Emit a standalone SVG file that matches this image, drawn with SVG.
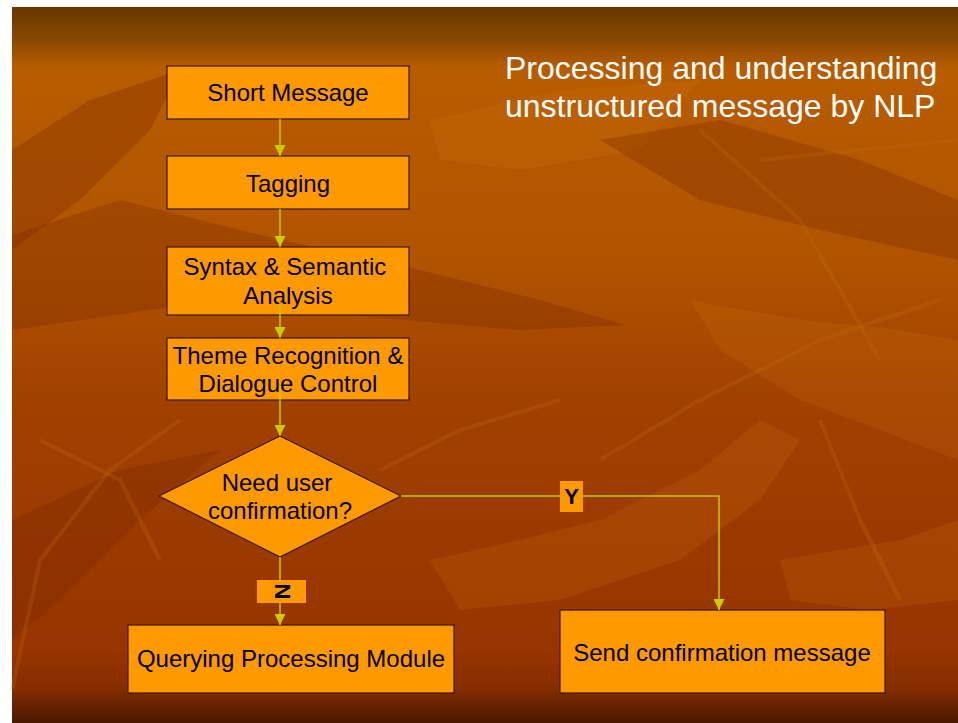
<svg xmlns="http://www.w3.org/2000/svg" width="958" height="723" viewBox="0 0 958 723">
<defs>
<linearGradient id="bg" x1="0" y1="0" x2="0" y2="1">
<stop offset="0" stop-color="#683600"/>
<stop offset="0.05" stop-color="#8e4a00"/>
<stop offset="0.085" stop-color="#b85c00"/>
<stop offset="0.35" stop-color="#b05400"/>
<stop offset="0.55" stop-color="#a04100"/>
<stop offset="0.9" stop-color="#973400"/>
<stop offset="0.95" stop-color="#862e00"/>
<stop offset="1" stop-color="#4a1800"/>
</linearGradient>
<marker id="ah" viewBox="0 0 10 10" refX="10" refY="5" markerWidth="11" markerHeight="11" markerUnits="userSpaceOnUse" orient="auto">
<path d="M0,0 L10,5 L0,10 Z" fill="#cccc00"/>
</marker>
<style>
.box{fill:#ff9900;stroke:#3a1800;stroke-width:1.2}
.t{font-family:"Liberation Sans",Arial,sans-serif;font-size:24px;fill:#000;text-anchor:middle}
.title{font-family:"Liberation Sans",Arial,sans-serif;font-size:32px;fill:#fff}
.c{fill:none;stroke:#c8c800;stroke-width:1.5}
.lab{fill:#ff9900}
.lt{font-family:"Liberation Sans",Arial,sans-serif;font-size:22px;font-weight:bold;fill:#000;text-anchor:middle}
.dk{fill:#7a2400;opacity:0.3}
.lg{fill:#d57a10;opacity:0.18}
.br{fill:none;stroke:#c46a10;stroke-width:4;opacity:0.25}
</style>
</defs>
<rect x="0" y="0" width="958" height="723" fill="#ffffff"/>
<rect x="12" y="7" width="946" height="716" fill="url(#bg)"/>
<g id="background">
<path class="dk" d="M12,235 L120,200 L260,235 L420,270 L540,300 L625,325 L520,330 L380,318 L220,300 L12,330 Z"/>
<path class="dk" d="M12,150 L90,100 L180,70 L150,130 L80,200 L12,250 Z"/>
<path class="lg" d="M430,120 L560,90 L700,80 L640,150 L520,170 L440,160 Z"/>
<path class="dk" d="M600,140 L720,120 L860,160 L958,200 L958,260 L820,230 L700,200 Z"/>
<path class="lg" d="M690,300 L800,320 L900,330 L958,340 L958,460 L880,430 L800,400 L720,350 Z"/>
<path class="dk" d="M12,520 L120,470 L220,450 L140,520 L60,600 L12,640 Z"/>
<path class="lg" d="M430,560 L520,540 L600,520 L700,470 L760,420 L800,440 L760,500 L680,560 L560,600 L460,610 Z"/>
<path class="lg" d="M780,560 L900,540 L958,520 L958,600 L870,610 L790,600 Z"/>
<path class="br" d="M700,130 L800,220 L880,360"/>
<path class="br" d="M760,160 L860,150 L958,140"/>
<path class="br" d="M12,690 L40,560 L110,470 L180,420"/>
<path class="br" d="M40,440 L120,480 L160,560"/>
<path class="br" d="M600,460 L700,400 L820,340 L940,300"/>
<path class="br" d="M820,420 L860,520 L900,600"/>
<path class="br" d="M380,470 L460,430 L560,400"/>
</g>
<text class="title" x="505" y="79">Processing and understanding</text>
<text class="title" x="505" y="117">unstructured message by NLP</text>
<g id="n_short">
<rect class="box" x="167" y="66" width="242" height="53"/>
<text class="t" x="288" y="101">Short Message</text>
</g>
<g id="n_tagging">
<rect class="box" x="167" y="156" width="242" height="53"/>
<text class="t" x="288" y="192">Tagging</text>
</g>
<g id="n_syntax">
<rect class="box" x="167" y="247" width="242" height="68"/>
<text class="t" x="285" y="275">Syntax &amp; Semantic</text>
<text class="t" x="288" y="304">Analysis</text>
</g>
<g id="n_theme">
<rect class="box" x="167" y="338" width="242" height="62"/>
<text class="t" x="288" y="364">Theme Recognition &amp;</text>
<text class="t" x="288" y="392">Dialogue Control</text>
</g>
<g id="n_decision">
<polygon class="box" points="280,436 401,496 280,557 159,496"/>
<text class="t" x="277" y="491">Need user</text>
<text class="t" x="280" y="519">confirmation?</text>
</g>
<g id="n_query">
<rect class="box" x="128" y="625" width="326" height="68"/>
<text class="t" x="291" y="667">Querying Processing Module</text>
</g>
<g id="n_send">
<rect class="box" x="560" y="610" width="325" height="83"/>
<text class="t" x="722" y="661">Send confirmation message</text>
</g>
<g id="connectors">
<line class="c" x1="280" y1="119" x2="280" y2="156" marker-end="url(#ah)"/>
<line class="c" x1="280" y1="209" x2="280" y2="247" marker-end="url(#ah)"/>
<line class="c" x1="280" y1="302" x2="280" y2="338" marker-end="url(#ah)"/>
<line class="c" x1="280" y1="386" x2="280" y2="436" marker-end="url(#ah)"/>
<line class="c" x1="280" y1="557" x2="280" y2="625" marker-end="url(#ah)"/>
<polyline class="c" points="401,496 719,496 719,610" marker-end="url(#ah)"/>
<g id="label_n">
<rect class="lab" x="257" y="580" width="49" height="23"/>
<text class="lt" x="282" y="591.5" transform="rotate(90 282 591.5)" dominant-baseline="central">N</text>
</g>
<g id="label_y">
<rect class="lab" x="560" y="481" width="23" height="31"/>
<text class="lt" x="571.5" y="504">Y</text>
</g>
</g>
</svg>
